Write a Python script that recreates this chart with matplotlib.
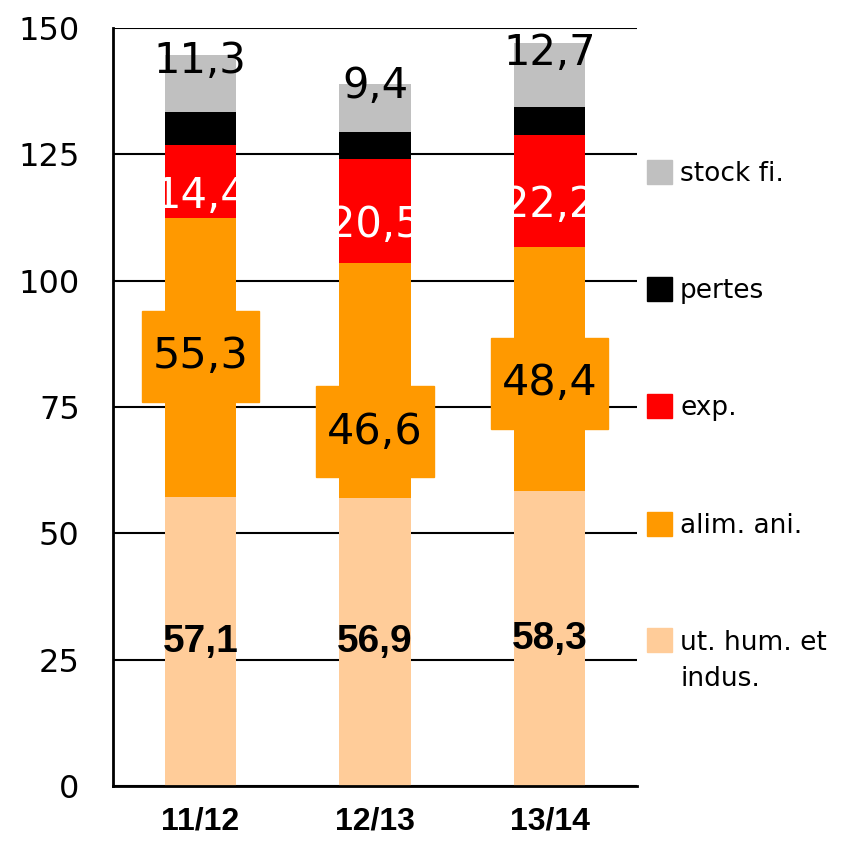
import numpy as np
import matplotlib.pyplot as plt
from matplotlib.patches import Rectangle

campagnes = ["11/12", "12/13", "13/14"]
ut_hum = [57.1, 56.9, 58.3]
alim_ani = [55.3, 46.6, 48.4]
exp_ = [14.4, 20.5, 22.2]
pertes = [6.6, 5.5, 5.5]
stock_fi = [11.3, 9.4, 12.7]

series = [ut_hum, alim_ani, exp_, pertes, stock_fi]
noms = ["ut. hum. et\nindus.", "alim. ani.", "exp.", "pertes", "stock fi."]
couleurs = ["#FFCC99", "#FF9900", "#FF0000", "#000000", "#C0C0C0"]


def fmt(v):
    return f"{v:.1f}".replace(".", ",")


if __name__ == '__main__':
    fig = plt.figure(figsize=(8.41, 8.42), dpi=100)
    ax = fig.add_axes([0.1344, 0.0665, 0.623, 0.9002])

    x = np.arange(len(campagnes))
    w = 0.41
    bas = np.zeros(len(x))
    for vals, c in zip(series, couleurs):
        ax.bar(x, vals, w, bottom=bas, color=c, zorder=2)
        bas += np.array(vals)

    base_alim = np.array(ut_hum)
    base_exp = base_alim + np.array(alim_ani)
    base_stock = base_exp + np.array(exp_) + np.array(pertes)

    # les etiquettes "alim. ani." ont ete deplacees a la main dans l'original
    decal_alim = [0.3, -10.1, -2.8]

    for i in x:
        # ut. hum. (gras)
        ax.text(i, ut_hum[i] / 2, fmt(ut_hum[i]), ha='center', va='center',
                fontsize=28, fontweight='bold', family='Liberation Sans',
                zorder=4)
        # alim. ani. dans une boite orange
        yc = base_alim[i] + alim_ani[i] / 2 + decal_alim[i]
        ax.add_patch(Rectangle((i - 0.335, yc - 9), 0.67, 18,
                               color="#FF9900", zorder=3))
        ax.text(i, yc, fmt(alim_ani[i]), ha='center', va='center',
                fontsize=31, zorder=4)
        # exp. en blanc
        ax.annotate(fmt(exp_[i]), (i, base_exp[i] + exp_[i] / 2),
                    xytext=(0, -10), textcoords='offset points',
                    ha='center', va='center', fontsize=30, color='white',
                    zorder=4)
        # stock fi.
        ax.annotate(fmt(stock_fi[i]), (i, base_stock[i] + stock_fi[i] / 2),
                    xytext=(0, 16), textcoords='offset points',
                    ha='center', va='center', fontsize=30, zorder=4)

    ax.set_xlim(-0.5, 2.5)
    ax.set_ylim(0, 150)
    ax.set_yticks(np.arange(0, 151, 25))
    ax.yaxis.grid(True, color='black', linewidth=1.5, zorder=0)
    ax.set_axisbelow(True)
    ax.set_xticks(x)
    ax.set_xticklabels(campagnes, fontsize=23, fontweight='bold',
                       family='Liberation Sans')
    ax.tick_params(axis='y', length=0, pad=24, labelsize=23)
    ax.tick_params(axis='x', length=0, pad=15)
    for s in ['top', 'right']:
        ax.spines[s].set_visible(False)
    for s in ['left', 'bottom']:
        ax.spines[s].set_linewidth(2)

    # legende
    ys = [0.240, 0.378, 0.518, 0.657, 0.796]
    h = 0.0285
    for y, nom, c in zip(ys, noms, couleurs):
        fig.add_artist(Rectangle((0.769, y - h / 2), 0.0297, h,
                                 color=c, transform=fig.transFigure))
        yb = y - h / 2 + 0.003 - 0.044 * nom.count('\n')
        fig.text(0.8086, yb, nom, fontsize=19, va='baseline',
                 linespacing=1.5, transform=fig.transFigure)

    plt.savefig("out.png", dpi=100)
